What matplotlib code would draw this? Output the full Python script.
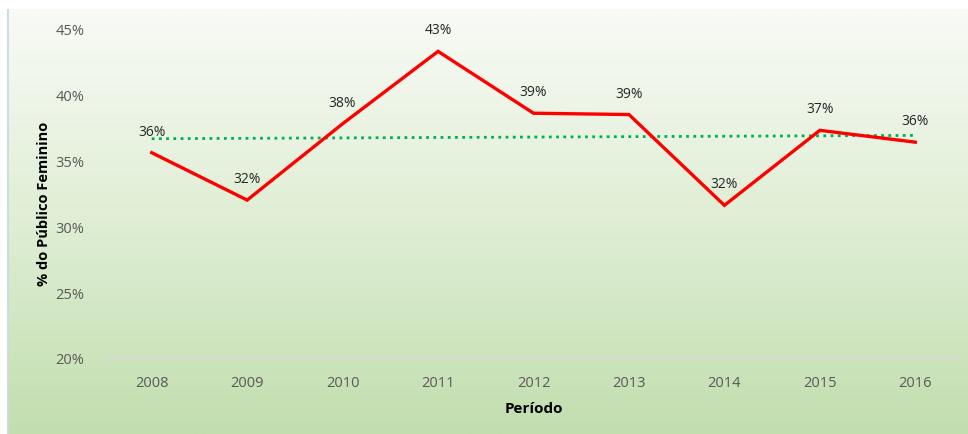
import matplotlib.pyplot as plt
import numpy as np
from matplotlib.colors import LinearSegmentedColormap

# Share of female audience per year (%)
anos = ['2008', '2009', '2010', '2011', '2012', '2013', '2014', '2015', '2016']
publico_feminino = [35.6, 32.0, 37.8, 43.3, 38.6, 38.5, 31.6, 37.3, 36.4]
rotulos = ['36%', '32%', '38%', '43%', '39%', '39%', '32%', '37%', '36%']
y_ticks = [20, 25, 30, 35, 40, 45]

plt.rcParams['font.family'] = ['Open Sans', 'DejaVu Sans']

fig = plt.figure(figsize=(9.68, 4.35), dpi=100)
W, H = 968, 435

# gradient panel behind the chart
bg = fig.add_axes([7 / W, 0, 1 - 7 / W, 1 - 10 / H])
cmap = LinearSegmentedColormap.from_list('verde', ['#f9fbf6', '#dfeed4', '#c2deaf'])
grad = np.linspace(0, 1, 256).reshape(-1, 1)
bg.imshow(grad, aspect='auto', cmap=cmap, extent=[0, 1, 0, 1])
bg.axvline(0, color='#c9d9e8', lw=2)
bg.set_axis_off()

ax = fig.add_axes([104 / W, 1 - 359 / H, (963 - 104) / W, (359 - 30) / H])
ax.patch.set_alpha(0)

x = np.arange(len(anos))
ax.plot(x, publico_feminino, color='#ff0000', lw=2.4, solid_joinstyle='miter', zorder=3)

# linear trendline
coef = np.polyfit(x, publico_feminino, 1)
ax.plot(x, np.polyval(coef, x), color='#00b050', lw=2, linestyle=(0, (1, 1.6)), zorder=2)

for xi, v, r in zip(x, publico_feminino, rotulos):
    ax.annotate(r, (xi, v), xytext=(0, 10), textcoords='offset points',
                ha='center', va='bottom', fontsize=10, color='#262626')

ax.set_xlim(-0.5, len(anos) - 0.5)
ax.set_ylim(20, 45)
ax.set_xticks(x)
ax.set_xticklabels(anos)
ax.set_yticks(y_ticks)
ax.set_yticklabels([f'{t}%' for t in y_ticks])
ax.tick_params(length=0, colors='#595959', labelsize=10.5)
ax.tick_params(axis='y', pad=14)
ax.tick_params(axis='x', pad=12)

for s in ['top', 'right', 'left']:
    ax.spines[s].set_visible(False)
ax.spines['bottom'].set_color('#d9d9d9')
ax.spines['bottom'].set_linewidth(1.3)

ax.set_ylabel('% do Público Feminino', fontsize=10.5, fontweight='bold', color='#000000')
ax.yaxis.set_label_coords(-0.062, 0.47)
ax.set_xlabel('Período', fontsize=11, fontweight='bold', color='#000000', labelpad=8)

fig.savefig('out.png', dpi=100)
